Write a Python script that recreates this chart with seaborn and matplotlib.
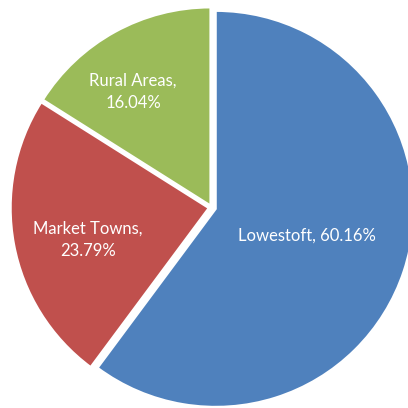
"""
Pie chart: share by area (Lowestoft, Market Towns, Rural Areas).
"""
import matplotlib
matplotlib.use("Agg")
import matplotlib.pyplot as plt
import seaborn as sns

sns.set_theme(style="white")
plt.rcParams['font.family'] = ['Lato', 'DejaVu Sans']

# data
areas = ["Lowestoft", "Market Towns", "Rural Areas"]
shares = [60.16, 23.79, 16.04]
label_texts = ["Lowestoft, 60.16%", "Market Towns,\n23.79%", "Rural Areas,\n16.04%"]
colors = ["#4F81BD", "#C0504D", "#9BBB59"]
explode = [0.022, 0.015, 0.012]

fig = plt.figure(figsize=(4.08, 4.08), dpi=100)
ax = fig.add_axes([0, 0, 1, 1])

wedges, texts = ax.pie(
    shares,
    colors=colors,
    explode=explode,
    startangle=90,
    counterclock=False,
    radius=1,
    wedgeprops=dict(edgecolor="white", linewidth=1.5),
)

# label positions (in radius units, relative to pie centre)
r_px = 198
cx, cy = 211.6, 207.5
label_px = [(307, 236), (88, 240), (133, 92)]
for (px, py), txt in zip(label_px, label_texts):
    ax.text((px - cx) / r_px, (cy - py) / r_px, txt, ha="center", va="center",
            color="white", fontsize=12, linespacing=1.45)

# crop like the original
ax.set_xlim(-cx / r_px, (408 - cx) / r_px)
ax.set_ylim(-(408 - cy) / r_px, cy / r_px)
ax.set_aspect("equal")
ax.axis("off")

fig.savefig("out.png", dpi=100)
